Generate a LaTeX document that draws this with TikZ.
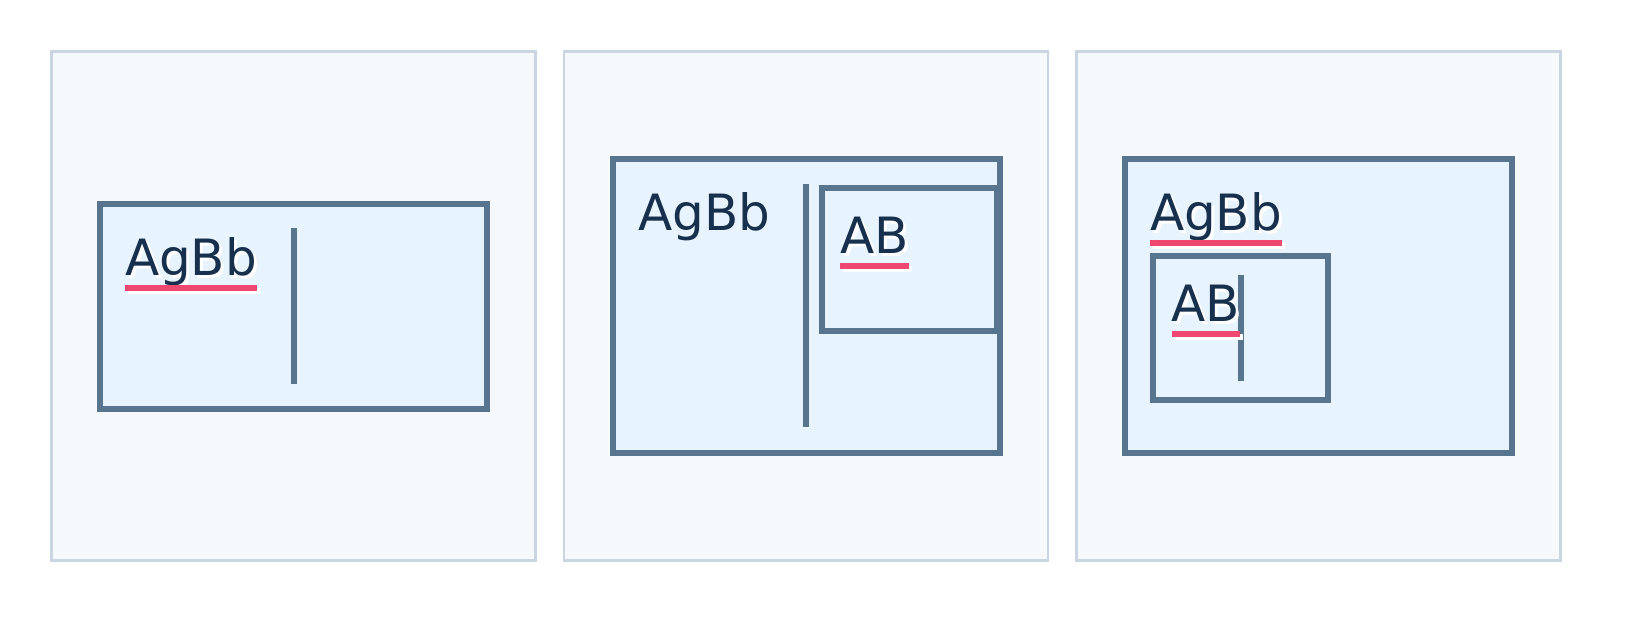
\documentclass[tikz,border=0pt]{standalone}
\usepackage{fontspec}
\setmainfont{DejaVu Sans}
\definecolor{panelfill}{HTML}{F5F9FC}
\definecolor{panelborder}{HTML}{C9D5E1}
\definecolor{boxfill}{HTML}{E7F4FD}
\definecolor{boxborder}{HTML}{587590}
\definecolor{txtc}{HTML}{17304D}
\definecolor{ulred}{HTML}{EE4770}
\begin{document}
\begin{tikzpicture}[x=1pt,y=-1pt,
  panel/.style={draw=panelborder, fill=panelfill, line width=2.6pt, inner sep=0pt, outer sep=0pt, minimum width=484pt, minimum height=509pt},
  boxst/.style={draw=boxborder, fill=boxfill, line width=6pt, inner sep=0pt, outer sep=0pt},
  vbar/.style={draw=boxborder, line width=6pt},
  lbl/.style={anchor=base west, inner sep=0pt, outer sep=0pt, text=txtc, font=\fontsize{50}{60}\selectfont},
  shd/.style={lbl, text=white},
  ul/.style={draw=ulred, line width=6pt},
  ulshd/.style={draw=white, line width=6pt}]
\useasboundingbox (0,0) rectangle (1625,625);
\fill[white] (0,0) rectangle (1625,625);

% panels
\node[panel] (p1) at (293.5,306) {};
\node[panel] (p2) at (806,306) {};
\node[panel] (p3) at (1318.5,306) {};

% ---------- panel 1
\node[boxst, minimum width=387pt, minimum height=205pt] (b1) at (293.5,306) {};
\coordinate (v1a) at (294,228);
\coordinate (v1b) at (294,383.7);
\draw[vbar] (v1a) -- (v1b);
\node[shd] (t1s) at (128,278) {AgBb};
\node[lbl] (t1) at (125,275) {AgBb};
\draw[ulshd] ([shift={(3pt,-15.5pt)}]t1.base west) -- ([shift={(3pt,-15.5pt)}]t1.base east);
\draw[ul] ([yshift=-12.5pt]t1.base west) -- ([yshift=-12.5pt]t1.base east);

% ---------- panel 2
\node[boxst, minimum width=387pt, minimum height=294pt] (b2) at (806,306) {};
\coordinate (v2a) at (806,184);
\coordinate (v2b) at (806,427.3);
\draw[vbar] (v2a) -- (v2b);
\node[lbl] (t2) at (638.3,230.7) {AgBb};
\node[boxst, minimum width=175pt, minimum height=143pt] (b2i) at (909.5,259) {};
\node[shd] (t2bs) at (843,256.3) {AB};
\node[lbl] (t2b) at (840,253.3) {AB};
\draw[ulshd] ([shift={(3pt,-15.5pt)}]t2b.base west) -- ([shift={(3pt,-15.5pt)}]t2b.base east);
\draw[ul] ([yshift=-12.5pt]t2b.base west) -- ([yshift=-12.5pt]t2b.base east);

% ---------- panel 3
\node[boxst, minimum width=387pt, minimum height=294pt] (b3) at (1318.5,306) {};
\node[shd] (t3s) at (1153,233.7) {AgBb};
\node[lbl] (t3) at (1150,230.7) {AgBb};
\draw[ulshd] ([shift={(3pt,-15.5pt)}]t3.base west) -- ([shift={(3pt,-15.5pt)}]t3.base east);
\draw[ul] ([yshift=-12.5pt]t3.base west) -- ([yshift=-12.5pt]t3.base east);
\node[boxst, minimum width=175pt, minimum height=144pt] (b3i) at (1240.5,328) {};
\coordinate (v3a) at (1240.5,275);
\coordinate (v3b) at (1240.5,380.7);
\draw[vbar] (v3a) -- (v3b);
\node[shd] (t3bs) at (1174.7,324.7) {AB};
\node[lbl] (t3b) at (1171.7,321.7) {AB};
\draw[ulshd] ([shift={(3pt,-15.5pt)}]t3b.base west) -- ([shift={(3pt,-15.5pt)}]t3b.base east);
\draw[ul] ([yshift=-12.5pt]t3b.base west) -- ([yshift=-12.5pt]t3b.base east);
\end{tikzpicture}
\end{document}
